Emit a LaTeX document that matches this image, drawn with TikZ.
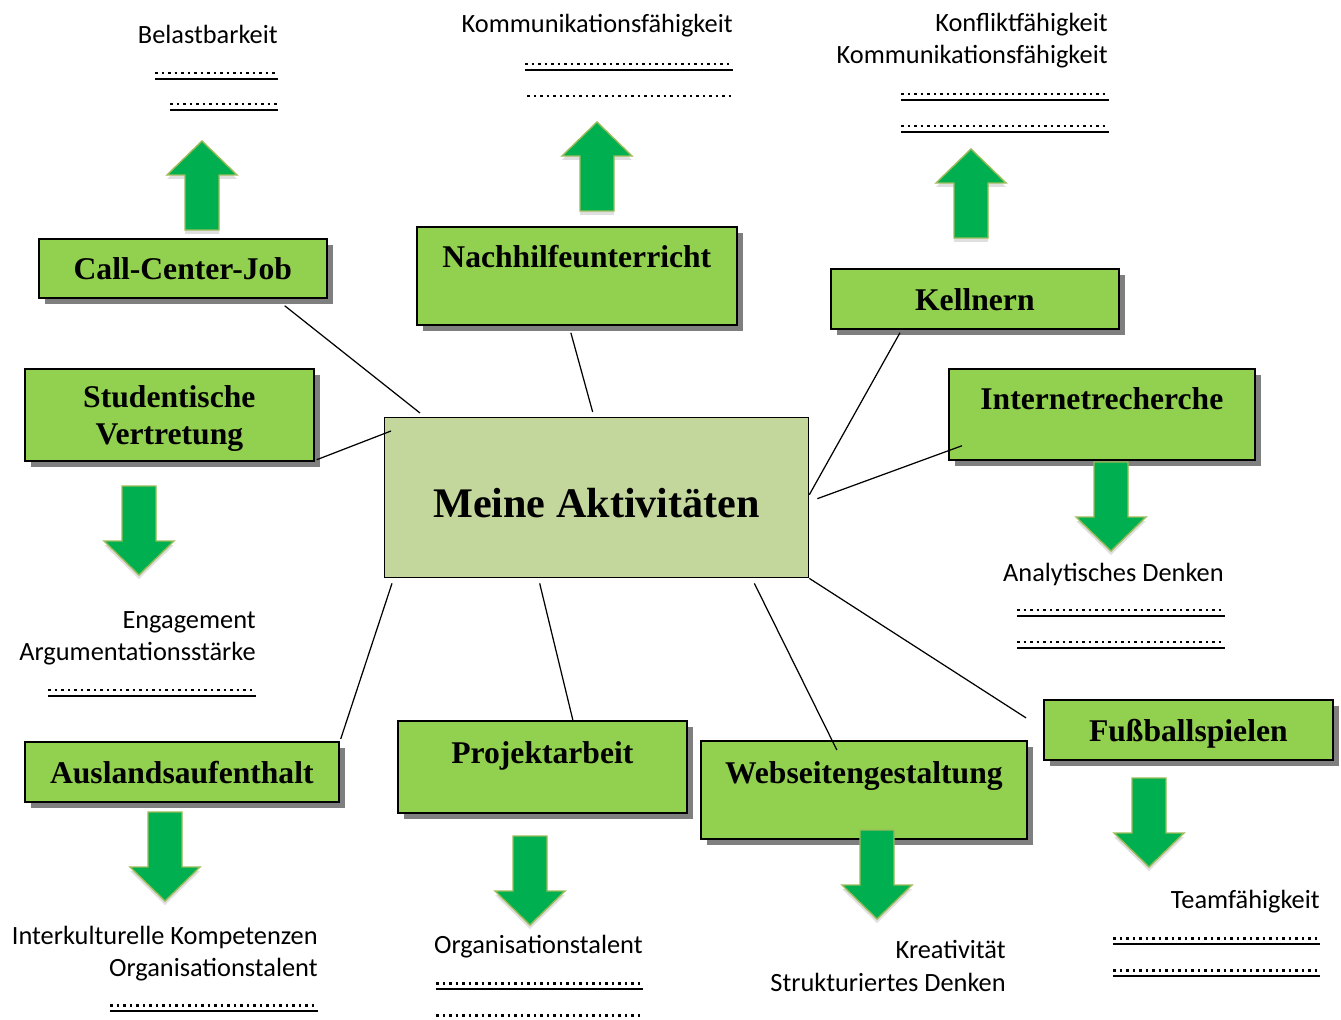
\documentclass[tikz,border=0pt]{standalone}
\usepackage{fontspec}
\setmainfont{Liberation Serif}
\newfontfamily\skillfont{Carlito}
\usetikzlibrary{shadows}
\definecolor{boxgreen}{HTML}{92D050}
\definecolor{actgreen}{HTML}{C3D69B}
\definecolor{arrowgreen}{HTML}{00B050}
\definecolor{arrowedge}{HTML}{9BBB59}
\tikzset{
  activity/.style={draw=black, line width=1pt, fill=boxgreen, inner sep=0pt, align=center,
    anchor=north west, font=\fontsize{18}{21}\selectfont\bfseries,
    drop shadow={shadow xshift=.12cm, shadow yshift=-.12cm, fill=black, opacity=.5}},
  skill/.style={font=\skillfont\fontsize{15}{18}\selectfont, inner sep=0pt, anchor=base east},
  link/.style={line width=.7pt},
  dotrow/.style={line width=1.7pt, dash pattern=on 1.6pt off 2.1pt},
  rule/.style={line width=1.3pt},
  pics/skillarrow/.style={code={
    \filldraw[fill=arrowgreen, draw=arrowedge, line width=.8pt,
      drop shadow={shadow xshift=0pt, shadow yshift=-.08cm, opacity=.25}]
      (-17,0) -- (-17,-55) -- (-35,-55) -- (0,-89) -- (35,-55) -- (17,-55) -- (17,0) -- cycle;}}
}
\begin{document}
\begin{tikzpicture}[x=0.02cm, y=-0.02cm]
  \useasboundingbox (0,0) rectangle (1341,1020);

  % centre
  \node[draw=black, line width=.8pt, fill=actgreen, inner sep=0pt, anchor=north west,
    minimum width=8.48cm, text height=2cm, text depth=1.2cm,
    font=\fontsize{24}{28}\selectfont\bfseries] (act) at (384,417) {Meine Aktivitäten};

  % activities
  \node[activity, minimum width=5.76cm, text height=.82cm, text depth=.36cm] (ccj) at (38,238) {Call-Center-Job};
  \node[activity, minimum width=6.4cm, text height=.82cm, text depth=1.14cm] (nach) at (416,226) {Nachhilfeunterricht};
  \node[activity, minimum width=5.76cm, text height=.84cm, text depth=.36cm] (kell) at (830,268) {Kellnern};
  \node[activity, minimum width=5.78cm, text height=1.52cm, text depth=.32cm] (stud) at (24,368) {Studentische\\Vertretung};
  \node[activity, minimum width=6.12cm, text height=.82cm, text depth=1cm] (inet) at (948,368) {Internetrecherche};
  \node[activity, minimum width=6.28cm, text height=.84cm, text depth=.36cm] (aus) at (24,741) {Auslandsaufenthalt};
  \node[activity, minimum width=5.78cm, text height=.86cm, text depth=.98cm] (proj) at (397,720) {Projektarbeit};
  \node[activity, minimum width=6.52cm, text height=.86cm, text depth=1.1cm] (web) at (700,740) {Webseitengestaltung};
  \node[activity, minimum width=5.78cm, text height=.84cm, text depth=.36cm] (fuss) at (1043,699) {Fußballspielen};

  % connectors
  \draw[link] ([xshift=-.86cm,yshift=-.14cm]ccj.south east) -- ([xshift=.72cm,yshift=.08cm]act.north west);
  \draw[link] ([xshift=-.12cm,yshift=-.14cm]nach.south) -- ([xshift=-.08cm,yshift=.1cm]act.north);
  \draw[link] ([xshift=1.4cm,yshift=-.06cm]kell.south west) -- ([yshift=.06cm]act.east);
  \draw[link] ([xshift=.04cm,yshift=.04cm]stud.south east) -- ([xshift=.14cm,yshift=-.28cm]act.north west);
  \draw[link] ([xshift=.28cm,yshift=.3cm]inet.south west) -- ([xshift=.16cm,yshift=-.02cm]act.east);
  \draw[link] ([xshift=.02cm,yshift=.04cm]aus.north east) -- ([xshift=.16cm,yshift=-.1cm]act.south west);
  \draw[link] ([xshift=.61cm]proj.north) -- ([xshift=-1.14cm,yshift=-.1cm]act.south);
  \draw[link] ([xshift=-.54cm,yshift=-.2cm]web.north) -- ([xshift=-1.1cm,yshift=-.1cm]act.south east);
  \draw[link] ([xshift=-.34cm,yshift=.24cm]fuss.west) -- (act.south east);

  % arrows
  \pic at (202,230) {skillarrow};
  \pic at (597,211) {skillarrow};
  \pic at (971,238) {skillarrow};
  \pic[rotate=180] at (139,486) {skillarrow};
  \pic[rotate=180] at (1111,462) {skillarrow};
  \pic[rotate=180] at (165,812) {skillarrow};
  \pic[rotate=180] at (530,836) {skillarrow};
  \pic[rotate=180] at (877,830) {skillarrow};
  \pic[rotate=180] at (1149,778) {skillarrow};

  % skills
  \node[skill] (belast) at (278,44) {Belastbarkeit};
  \node[skill] (komm1) at (733,33) {Kommunikationsfähigkeit};
  \node[skill] (konfl) at (1108,32) {Konfliktfähigkeit};
  \node[skill] (komm2) at (1108,64) {Kommunikationsfähigkeit};
  \node[skill] (engag) at (256,628) {Engagement};
  \node[skill] (argum) at (256,660) {Argumentationsstärke};
  \node[skill] (analyt) at (1224,581) {Analytisches Denken};
  \node[skill] (interk) at (318,944) {Interkulturelle Kompetenzen};
  \node[skill] (orga1) at (318,976) {Organisationstalent};
  \node[skill] (orga2) at (643,953) {Organisationstalent};
  \node[skill] (kreat) at (1006,958) {Kreativität};
  \node[skill] (strukt) at (1006,991) {Strukturiertes Denken};
  \node[skill] (team) at (1320,908) {Teamfähigkeit};

  % blank lines
  \foreach \xa/\xb/\y in {155/278/73, 170/278/104, 525/733/64, 901/1109/94, 901/1109/126,
      48/256/690, 1017/1225/610, 1017/1225/642, 110/318/1005, 436/643/983,
      1113/1320/938, 1113/1320/970} {
    \draw[dotrow] (\xa,\y) -- (\xb,\y);
    \draw[rule] (\xa,\y+6) -- (\xb,\y+6);
  }
  \foreach \xa/\xb/\y in {527/733/96, 436/643/1015}
    \draw[dotrow] (\xa,\y) -- (\xb,\y);
\end{tikzpicture}
\end{document}
